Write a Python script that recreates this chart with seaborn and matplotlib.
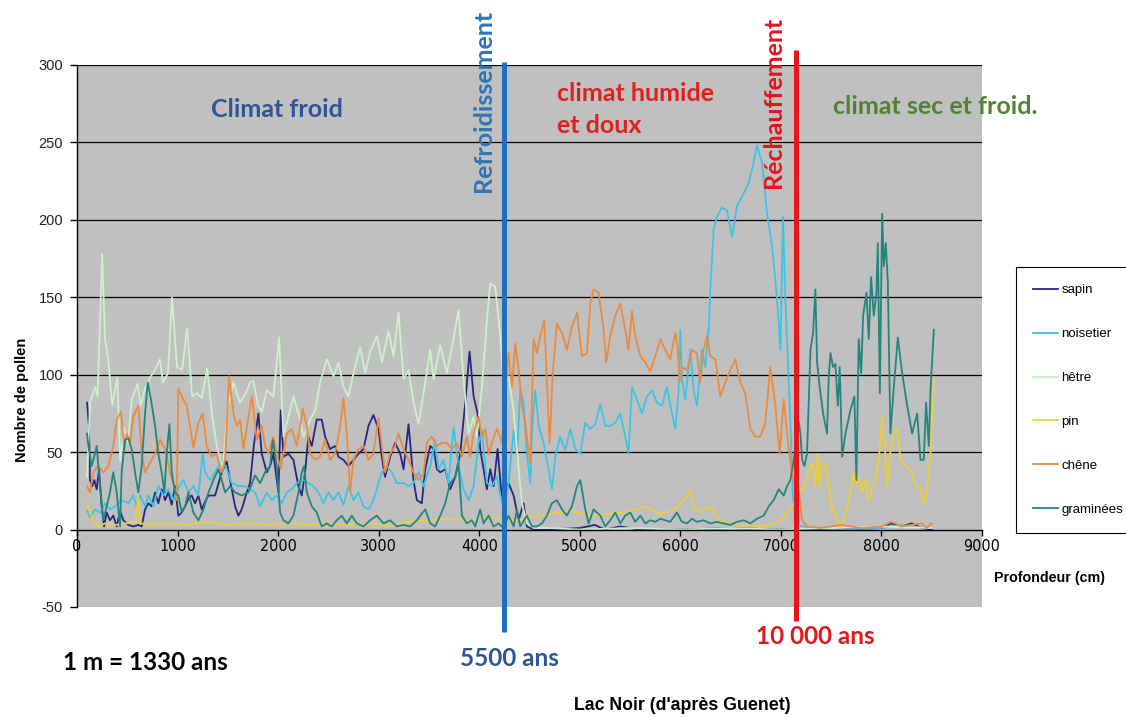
import matplotlib
matplotlib.use("Agg")
import matplotlib.pyplot as plt
import pandas as pd
import seaborn as sns
from matplotlib.lines import Line2D

# ---------------- data : (profondeur cm, nombre de pollen) ----------------
sapin = [(100,82),(119,67),(129,32),(152,28),(172,32),(196,26),(219,39),(245,15),(269,2),(295,11),(328,6),(361,9),(395,2),(428,12),(461,6),(511,3),(560,2),(610,3),(643,2),(677,13),(710,17),(743,15),(776,24),(809,17),(842,26),(876,19),(909,24),(942,16),(975,28),(1008,9),(1041,11),(1075,15),(1108,20),(1141,22),(1174,17),(1207,22),(1240,13),(1274,18),(1307,22),(1373,22),(1439,37),(1489,44),(1522,32),(1572,15),(1605,9),(1638,13),(1688,24),(1721,30),(1760,55),(1804,75),(1837,49),(1887,37),(1920,41),(1953,49),(2003,24),(2026,77),(2053,47),(2102,49),(2152,45),(2202,28),(2235,22),(2268,37),(2301,60),(2335,54),(2384,71),(2434,71),(2467,60),(2517,52),(2567,54),(2600,47),(2650,45),(2700,41),(2749,45),(2799,49),(2849,52),(2899,67),(2948,74),(2998,65),(3031,47),(3064,34),(3114,47),(3164,56),(3214,49),(3247,39),(3297,68),(3346,32),(3380,19),(3429,17),(3463,39),(3513,54),(3546,52),(3579,39),(3612,37),(3662,39),(3711,26),(3761,34),(3811,49),(3861,82),(3904,115),(3944,86),(3984,75),(4010,52),(4043,39),(4076,26),(4110,39),(4143,28),(4183,52),(4226,19),(4292,30),(4342,22),(4392,6),(4441,17),(4474,2),(4541,0),(4700,0),(5000,1),(5150,3),(5250,0),(5400,2),(5600,0),(6000,0),(6500,1),(7000,0),(7500,0),(8000,1),(8100,4),(8200,2),(8300,4),(8400,1),(8500,0)]

noisetier = [(100,12),(129,8),(179,13),(229,11),(279,17),(328,13),(378,15),(444,19),(511,17),(560,22),(594,15),(627,22),(677,15),(710,22),(760,15),(809,28),(859,22),(909,26),(958,19),(1008,27),(1058,32),(1108,24),(1158,28),(1207,22),(1250,49),(1274,37),(1323,32),(1373,37),(1439,45),(1489,39),(1539,30),(1605,28),(1672,28),(1721,26),(1771,24),(1821,15),(1887,24),(1937,19),(1986,22),(2036,17),(2086,24),(2136,26),(2185,30),(2252,32),(2301,30),(2351,28),(2401,24),(2451,17),(2500,24),(2550,19),(2600,24),(2650,16),(2700,28),(2749,19),(2799,24),(2849,15),(2899,13),(2948,19),(2998,30),(3031,37),(3081,41),(3131,37),(3181,30),(3247,30),(3297,28),(3346,30),(3396,37),(3446,28),(3513,41),(3562,58),(3595,39),(3645,45),(3695,30),(3745,66),(3794,41),(3844,26),(3894,19),(3944,28),(3993,56),(4027,64),(4076,30),(4126,28),(4176,34),(4226,17),(4259,17),(4292,30),(4342,64),(4375,47),(4408,90),(4441,82),(4474,49),(4508,30),(4524,64),(4557,90),(4591,67),(4640,56),(4690,39),(4723,26),(4756,47),(4806,60),(4856,51),(4906,65),(4955,52),(5005,49),(5055,69),(5104,65),(5154,68),(5204,81),(5253,67),(5303,67),(5353,69),(5403,75),(5452,60),(5485,49),(5519,92),(5568,84),(5618,75),(5668,86),(5718,90),(5767,82),(5817,80),(5867,92),(5917,75),(5950,65),(5983,90),(6000,129),(6016,97),(6049,84),(6099,116),(6132,90),(6165,80),(6215,116),(6248,105),(6282,129),(6298,155),(6331,194),(6364,202),(6414,208),(6464,206),(6514,189),(6563,209),(6630,217),(6680,224),(6729,237),(6763,248),(6812,237),(6862,204),(6912,183),(6961,150),(6995,116),(7021,202),(7044,150),(7077,97),(7100,60),(7120,20),(7150,3),(7300,1),(7600,0),(8000,1),(8200,3),(8300,2),(8500,1)]

hetre = [(100,34),(130,82),(180,92),(205,86),(250,178),(280,122),(310,110),(350,80),(400,98),(430,44),(470,66),(505,56),(545,84),(600,94),(635,80),(680,92),(725,98),(775,103),(825,110),(855,95),(905,101),(945,150),(995,105),(1045,103),(1095,130),(1145,86),(1195,88),(1240,85),(1295,104),(1345,73),(1390,54),(1450,39),(1500,80),(1556,95),(1620,82),(1672,87),(1721,95),(1755,96),(1800,80),(1838,76),(1887,90),(1954,86),(2010,124),(2053,60),(2103,73),(2153,86),(2202,75),(2252,60),(2318,71),(2368,77),(2418,95),(2484,110),(2551,99),(2601,108),(2650,92),(2700,86),(2750,101),(2816,118),(2866,101),(2916,115),(2982,125),(3032,108),(3098,128),(3148,112),(3198,140),(3247,97),(3297,103),(3347,82),(3397,68),(3446,88),(3513,116),(3546,97),(3612,119),(3678,101),(3745,123),(3794,142),(3844,97),(3894,62),(3944,73),(3977,60),(4027,92),(4076,135),(4110,159),(4159,157),(4209,125),(4242,92),(4292,99),(4342,77),(4392,39),(4425,17),(4474,4),(4541,1),(4700,1),(5000,0),(5500,1),(6000,0),(6500,1),(7000,0),(7500,1),(8000,2),(8500,1)]

pin = [(100,17),(130,11),(160,6),(210,2),(280,4),(380,3),(480,4),(580,5),(610,21),(630,4),(750,3),(900,4),(1100,3),(1300,5),(1500,3),(1700,4),(1900,3),(2100,4),(2300,3),(2500,4),(2700,3),(2900,4),(3100,3),(3300,5),(3500,6),(3700,7),(3900,6),(4100,8),(4300,5),(4500,8),(4700,10),(4900,12),(5100,9),(5300,10),(5500,12),(5650,15),(5800,10),(5950,13),(6050,20),(6100,26),(6140,15),(6200,11),(6300,15),(6400,5),(6600,3),(6800,2),(6950,4),(7000,6),(7061,11),(7128,16),(7177,26),(7227,26),(7277,37),(7310,43),(7343,28),(7366,49),(7386,28),(7410,41),(7443,43),(7476,28),(7509,13),(7559,6),(7592,1),(7625,6),(7675,19),(7725,37),(7751,28),(7774,34),(7808,24),(7841,32),(7874,19),(7907,26),(7940,34),(7974,45),(8007,73),(8030,58),(8056,28),(8090,52),(8123,62),(8156,65),(8189,45),(8239,41),(8289,39),(8338,28),(8388,26),(8421,17),(8454,26),(8488,49),(8521,97)]

chene = [(100,28),(129,24),(162,37),(212,41),(262,37),(312,41),(361,54),(395,71),(438,76),(471,52),(494,62),(527,56),(560,73),(610,80),(643,49),(677,37),(726,43),(776,49),(826,58),(876,52),(925,37),(975,26),(992,19),(1008,91),(1041,86),(1091,80),(1158,53),(1207,69),(1250,75),(1290,54),(1340,47),(1390,49),(1439,37),(1473,45),(1512,99),(1556,75),(1589,67),(1622,71),(1655,52),(1705,73),(1740,86),(1787,58),(1837,67),(1870,54),(1903,49),(1953,60),(1993,47),(2026,39),(2086,62),(2136,65),(2185,54),(2219,67),(2245,78),(2285,67),(2318,49),(2368,45),(2418,47),(2467,58),(2517,45),(2567,49),(2617,67),(2650,85),(2683,62),(2716,24),(2749,45),(2799,52),(2849,54),(2899,45),(2948,49),(2998,72),(3031,54),(3064,37),(3114,49),(3164,54),(3197,62),(3247,52),(3297,45),(3346,37),(3396,32),(3446,36),(3479,56),(3529,60),(3579,54),(3629,56),(3678,56),(3728,52),(3778,56),(3828,47),(3877,60),(3910,47),(3944,62),(3993,73),(4027,60),(4060,65),(4093,49),(4126,56),(4176,65),(4226,56),(4292,114),(4325,92),(4358,120),(4392,103),(4425,80),(4458,69),(4474,60),(4508,43),(4541,123),(4574,114),(4607,125),(4647,135),(4673,97),(4700,56),(4733,103),(4773,133),(4823,127),(4872,116),(4922,131),(4972,140),(5022,112),(5071,114),(5105,146),(5138,155),(5188,153),(5237,129),(5263,108),(5303,125),(5353,138),(5403,146),(5452,129),(5485,116),(5519,141),(5552,125),(5602,112),(5651,108),(5701,102),(5751,112),(5801,123),(5850,116),(5900,110),(5950,127),(5973,118),(5993,95),(6016,105),(6066,103),(6116,116),(6165,114),(6199,95),(6232,116),(6265,125),(6298,112),(6348,110),(6398,86),(6447,95),(6497,103),(6547,110),(6597,95),(6646,88),(6696,65),(6746,60),(6796,60),(6845,69),(6895,105),(6945,80),(6988,49),(7028,84),(7078,52),(7120,32),(7177,26),(7211,6),(7260,2),(7400,1),(7600,3),(7800,1),(8000,2),(8100,5),(8200,2),(8300,3),(8400,4),(8450,1),(8500,4)]

graminees = [(100,62),(113,54),(146,41),(179,49),(196,54),(229,28),(262,6),(295,15),(328,24),(361,37),(395,24),(428,2),(444,37),(478,58),(511,59),(544,52),(577,37),(610,24),(643,41),(677,75),(703,95),(736,84),(776,67),(809,49),(842,37),(869,24),(892,49),(919,68),(942,37),(975,24),(1008,22),(1041,11),(1075,15),(1108,24),(1158,11),(1207,6),(1257,13),(1307,24),(1357,32),(1406,39),(1439,32),(1473,24),(1522,28),(1572,24),(1638,22),(1705,24),(1771,35),(1821,30),(1870,37),(1920,41),(1947,58),(1986,41),(2020,11),(2053,6),(2102,4),(2152,9),(2202,24),(2235,37),(2258,41),(2285,24),(2335,15),(2384,11),(2434,2),(2484,4),(2534,2),(2583,6),(2633,9),(2683,4),(2733,9),(2782,4),(2849,2),(2915,6),(2981,9),(3048,4),(3114,6),(3181,2),(3247,3),(3313,2),(3380,6),(3413,9),(3463,13),(3513,4),(3562,2),(3612,9),(3662,17),(3711,30),(3761,34),(3794,43),(3828,9),(3877,4),(3927,6),(3960,2),(4010,13),(4043,4),(4093,9),(4143,2),(4193,4),(4242,1),(4292,9),(4342,2),(4375,13),(4408,2),(4474,9),(4524,2),(4574,2),(4624,4),(4673,9),(4723,17),(4773,19),(4823,13),(4872,9),(4922,15),(4972,28),(5005,32),(5055,13),(5088,4),(5138,13),(5204,9),(5253,2),(5303,6),(5353,11),(5403,4),(5452,9),(5502,11),(5552,5),(5602,9),(5651,4),(5701,6),(5751,5),(5801,7),(5850,6),(5900,5),(5966,11),(6016,5),(6066,4),(6116,7),(6165,5),(6232,6),(6298,4),(6364,5),(6431,4),(6497,3),(6563,5),(6630,6),(6696,4),(6763,7),(6829,9),(6879,15),(6928,19),(6978,26),(7028,22),(7061,28),(7094,32),(7128,45),(7154,58),(7177,70),(7194,62),(7211,45),(7234,41),(7260,49),(7294,116),(7320,127),(7343,155),(7360,108),(7386,92),(7420,75),(7459,62),(7476,99),(7493,114),(7519,105),(7542,107),(7566,80),(7585,105),(7609,47),(7642,62),(7691,77),(7731,86),(7751,32),(7774,123),(7798,101),(7818,138),(7851,153),(7874,123),(7897,163),(7924,138),(7950,153),(7964,185),(7984,88),(8007,204),(8023,170),(8043,185),(8063,161),(8089,62),(8123,92),(8163,124),(8206,101),(8256,80),(8305,62),(8355,75),(8388,45),(8421,45),(8444,82),(8471,54),(8488,90),(8521,129)]

taxa = ["sapin", "noisetier", "hêtre", "pin", "chêne", "graminées"]
series = [sapin, noisetier, hetre, pin, chene, graminees]
colors = ["#27277F", "#3EC3E7", "#CDEFCB", "#EDCF3C", "#EC8A3D", "#23857F"]

# events (profondeur)
event_depth = [4250, 7150]
event_colors = ["#1E6FBE", "#E3161C"]

x_ticks = list(range(0, 9001, 1000))
y_ticks = list(range(-50, 301, 50))

# ---------------- build long table ----------------
frames = []
for name, s in zip(taxa, series):
    d, v = zip(*s)
    frames.append(pd.DataFrame({"profondeur": d, "pollen": v, "taxon": name}))
df = pd.concat(frames, ignore_index=True)

plt.rcParams["font.family"] = ["Liberation Sans", "DejaVu Sans"]

W, H = 1126, 717
fig = plt.figure(figsize=(W / 100, H / 100), dpi=100)
ax = fig.add_axes([77 / W, 1 - 607 / H, (982 - 77) / W, (607 - 65) / H])
ax.set_facecolor("#C0C0C0")

sns.lineplot(data=df, x="profondeur", y="pollen", hue="taxon", hue_order=taxa,
             palette=dict(zip(taxa, colors)), estimator=None, sort=False,
             linewidth=1.3, ax=ax, legend=False)

ax.set_xlim(0, 9000)
ax.set_ylim(-50, 300)
ax.set_xticks(x_ticks)
ax.set_yticks(y_ticks)
ax.set_xlabel("")
ax.set_ylabel("")

# grid (horizontal only, positive values)
ax.yaxis.grid(True, color="black", linewidth=0.9)
ax.xaxis.grid(False)
for val, gl in zip(y_ticks, ax.get_ygridlines()):
    if val <= 0:
        gl.set_visible(False)
ax.set_axisbelow(True)

for s in ["top", "right"]:
    ax.spines[s].set_visible(False)
ax.spines["left"].set_color("black")
ax.spines["left"].set_linewidth(1.0)
ax.spines["bottom"].set_position(("data", 0))
ax.spines["bottom"].set_color("black")
ax.spines["bottom"].set_linewidth(1.0)

ax.tick_params(axis="y", direction="out", length=5, width=1, pad=5, labelsize=10.5, colors="black")
ax.tick_params(axis="x", direction="out", length=4, width=1, pad=3, labelsize=12)
ax.set_xticklabels([str(t) for t in x_ticks], fontfamily="DejaVu Sans", fontstretch="condensed",
                   fontsize=11.5)
ax.set_yticklabels([str(t) for t in y_ticks])
for lab in ax.get_yticklabels():
    lab.set_color("#222222")

# event lines (extend beyond the plot area)
ax.plot([event_depth[0]] * 2, [-66, 302], color=event_colors[0], lw=3.6, clip_on=False, zorder=5, solid_capstyle="butt")
ax.plot([event_depth[1]] * 2, [-59, 310], color=event_colors[1], lw=3.6, clip_on=False, zorder=5, solid_capstyle="butt")

ann = ["Lato", "DejaVu Sans"]
fs_top = 18
ax.text(1990, 271, "Climat froid", color="#2F5597", fontsize=fs_top, fontweight="bold",
        family=ann, ha="center", va="center")
ax.text(4776, 289, "climat humide\net doux", color="#E0201F", fontsize=fs_top, fontweight="bold",
        family=ann, ha="left", va="top", linespacing=1.48)
ax.text(7522, 273, "climat sec et froid.", color="#548235", fontsize=fs_top, fontweight="bold",
        family=ann, ha="left", va="center")
ax.text(4040, 277, "Refroidissement", color="#2E75B6", fontsize=fs_top, fontweight="bold",
        family=ann, ha="center", va="center", rotation=90, clip_on=False)
ax.text(6925, 276, "Réchauffement", color="#E3161C", fontsize=fs_top, fontweight="bold",
        family=ann, ha="center", va="center", rotation=90, clip_on=False)

fs_bot = 17.5
fig.text(509 / W, 1 - 658 / H, "5500 ans", color="#2F5597", fontsize=fs_bot, fontweight="bold",
         family=ann, ha="center", va="center")
fig.text(815 / W, 1 - 637 / H, "10 000 ans", color="#E3161C", fontsize=fs_bot, fontweight="bold",
         family=ann, ha="center", va="center")
fig.text(145 / W, 1 - 662 / H, "1 m = 1330 ans", color="black", fontsize=fs_bot, fontweight="bold",
         family=ann, ha="center", va="center")

fig.text(682 / W, 1 - 706 / H, "Lac Noir (d'après Guenet)", fontsize=12.8, fontweight="bold",
         ha="center", va="center")
fig.text(1050 / W, 1 - 578 / H, "Profondeur (cm)", fontsize=10.3, fontweight="bold",
         ha="center", va="center")
fig.text(22 / W, 1 - 400 / H, "Nombre de pollen", fontsize=10.5, fontweight="bold",
         ha="center", va="center", rotation=90)

handles = [Line2D([0], [0], color=c, lw=1.3) for c in colors]
leg = fig.legend(handles, taxa, loc="upper left", bbox_to_anchor=(1016 / W, 1 - 267 / H),
                 bbox_transform=fig.transFigure, frameon=True, fancybox=False,
                 edgecolor="black", facecolor="white", framealpha=1, fontsize=9.5,
                 handlelength=1.9, handletextpad=0.25, labelspacing=2.4, borderpad=1.3,
                 borderaxespad=0)
leg.get_frame().set_linewidth(0.8)
leg._legend_box.sep = 0

fig.savefig("out.png", dpi=100, facecolor="white")
